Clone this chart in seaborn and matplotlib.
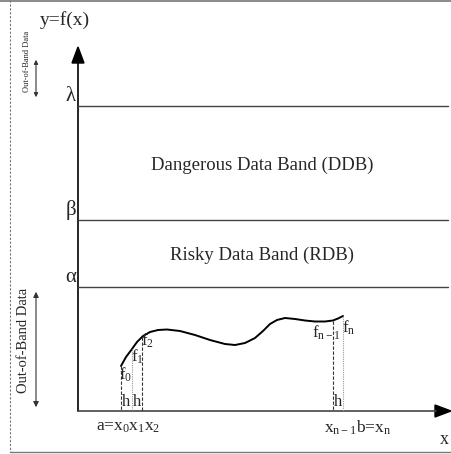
import matplotlib
matplotlib.use('Agg')
import matplotlib.pyplot as plt
import seaborn as sns
import pandas as pd

# curve f(x) (diagram units, y grows downward)
curve_x = [121, 126, 132, 137, 143, 150, 158, 167, 180, 195, 210, 225, 235, 245,
           255, 263, 270, 277, 285, 295, 305, 315, 325, 333, 338, 343]
curve_y = [366, 357, 349, 342, 336, 332, 330, 329.5, 331, 335, 340, 344, 345, 343,
           338, 331, 324, 320, 318, 319, 320.5, 321.5, 321.5, 320.5, 318.5, 316]

# threshold levels
band_names = ['λ', 'β', 'α']
band_levels = [106, 220, 287]
band_labels = ['Dangerous Data Band (DDB)', 'Risky Data Band (RDB)']

# sample points
sample_x = [121, 132, 142, 333, 343]
sample_labels = [r'f$_0$', r'f$_1$', r'f$_2$', r'f$_\mathrm{n-1}$', r'f$_\mathrm{n}$']

sns.set_theme(style='white')
plt.rcParams['font.family'] = ['Liberation Serif', 'DejaVu Serif']
plt.rcParams['mathtext.fontset'] = 'custom'
plt.rcParams['mathtext.rm'] = 'Liberation Serif'
plt.rcParams['mathtext.it'] = 'Liberation Serif'

fig = plt.figure(figsize=(4.51, 4.54), dpi=100)
ax = fig.add_axes([0, 0, 1, 1])
ax.set_xlim(0, 451)
ax.set_ylim(454, 0)
ax.axis('off')

# frame of the picture
ax.plot([10, 10], [0, 452], color='#777777', lw=0.8, ls=(0, (2, 1.5)))
ax.plot([0, 451], [0.5, 0.5], color='#777777', lw=1.2)
ax.plot([10, 451], [452, 452], color='#777777', lw=1.0)

# axes with arrows
ax.plot([78, 78], [411, 60], color='black', lw=1.2)
ax.plot([78, 436], [411, 411], color='#444444', lw=1.2)
ax.fill([72, 84, 78], [63, 63, 47], color='black')
ax.fill([435, 435, 451], [405, 417, 411], color='black')

# band lines
for name, lev in zip(band_names, band_levels):
    ax.plot([78, 448], [lev, lev], color='#444444', lw=1.0)
    ax.text(71, lev, name, ha='center', va='bottom', fontsize=15)

ax.text(262, 165, band_labels[0], ha='center', va='center', fontsize=13.5)
ax.text(262, 255, band_labels[1], ha='center', va='center', fontsize=13.5)

# the function
df = pd.DataFrame({'x': curve_x, 'y': curve_y})
sns.lineplot(data=df, x='x', y='y', ax=ax, color='black', lw=1.4, sort=False)

# sample verticals
styles = [('#333333', (0, (3, 1.5))), ('#999999', (0, (1, 1))), ('#333333', (0, (3, 1.5))),
          ('#333333', (0, (3, 1.5))), ('#999999', (0, (1, 1)))]
sample_top = [366, 349, 337, 320.5, 316]
for sx, top, (c, ls) in zip(sample_x, sample_top, styles):
    ax.plot([sx, sx], [top, 411], color=c, lw=0.8, ls=ls)

label_pos = [(126, 375), (137, 357), (147, 341), (326, 333), (349, 328)]
for (lx, ly), lab in zip(label_pos, sample_labels):
    ax.text(lx, ly, lab, ha='center', va='center', fontsize=12)

for hx in [126.5, 137, 338]:
    ax.text(hx, 410, 'h', ha='center', va='bottom', fontsize=12)

ax.text(96, 427, r'a=x$_0$x$_1$x$_2$', ha='left', va='center', fontsize=12.5)
ax.text(324, 428, r'x$_\mathrm{n-1}$b=x$_\mathrm{n}$', ha='left', va='center', fontsize=12.5)
ax.text(440, 439, 'x', ha='left', va='center', fontsize=13)

ax.text(40, 20, 'y=f(x)', ha='left', va='center', fontsize=14)

# out-of-band markers
ax.text(27, 61, 'Out-of-Band Data', rotation=90, ha='center', va='center', fontsize=6)
ax.annotate('', xy=(36, 57), xytext=(36, 100),
            arrowprops=dict(arrowstyle='<|-|>', color='#333333', lw=0.8, mutation_scale=6))
ax.text(24, 340, 'Out-of-Band Data', rotation=90, ha='center', va='center', fontsize=10.5)
ax.annotate('', xy=(36, 289), xytext=(36, 410),
            arrowprops=dict(arrowstyle='<|-|>', color='#333333', lw=0.8, mutation_scale=8))

fig.savefig('out.png', dpi=100)
